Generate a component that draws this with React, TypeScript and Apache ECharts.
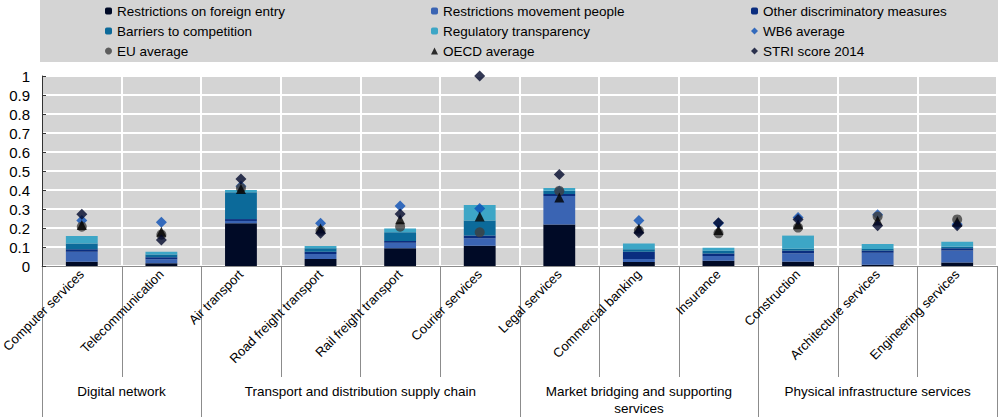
import React, { useEffect, useRef } from "react";
import * as echarts from "echarts";

const categories = [
  "Computer services",
  "Telecommunication",
  "Air transport",
  "Road freight transport",
  "Rail freight transport",
  "Courier services",
  "Legal services",
  "Commercial banking",
  "Insurance",
  "Construction",
  "Architecture services",
  "Engineering services",
];

const groupNames = [
  "Digital network",
  "Transport and distribution supply chain",
  "Market bridging and supporting\nservices",
  "Physical infrastructure services",
];
const groupSizes = [2, 4, 3, 3];

const foreignEntry = [0.023, 0.014, 0.225, 0.037, 0.093, 0.107, 0.219, 0.021, 0.028, 0.023, 0.007, 0.018];
const movementPeople = [0.052, 0.021, 0.012, 0.026, 0.03, 0.039, 0.149, 0.016, 0.024, 0.044, 0.063, 0.063];
const otherDiscriminatory = [0.013, 0.011, 0.01, 0.012, 0.009, 0.015, 0.011, 0.038, 0.014, 0.014, 0.011, 0.012];
const barriersCompetition = [0.031, 0.014, 0.141, 0.018, 0.045, 0.078, 0.017, 0.013, 0.014, 0.01, 0.009, 0.009];
const regulatoryTransparency = [0.039, 0.015, 0.012, 0.012, 0.021, 0.082, 0.014, 0.031, 0.016, 0.069, 0.026, 0.025];
const wb6Average = [0.24, 0.23, 0.42, 0.225, 0.316, 0.302, 0.395, 0.24, 0.225, 0.255, 0.27, 0.22];
const euAverage = [0.207, 0.165, 0.41, 0.185, 0.207, 0.177, 0.395, 0.185, 0.172, 0.202, 0.26, 0.245];
const oecdAverage = [0.216, 0.18, 0.405, 0.198, 0.246, 0.26, 0.36, 0.198, 0.19, 0.22, 0.24, 0.233];
const striScore2014 = [0.272, 0.137, 0.458, 0.172, 0.274, 1.0, 0.481, 0.175, 0.228, 0.245, 0.212, 0.212];

const FONT = "'Liberation Sans', Arial, sans-serif";

export default function App() {
  const ref = useRef<HTMLDivElement>(null);

  useEffect(() => {
    if (!ref.current) return;
    const chart = echarts.init(ref.current, undefined, { renderer: "svg" });

    const barSeries = (name: string, data: number[], color: string) => ({
      name,
      type: "bar",
      stack: "stri",
      data,
      barWidth: "40%",
      itemStyle: { color },
      z: 2,
    });
    const scatterSeries = (name: string, data: number[], symbol: string, size: number, color: string, z: number) => ({
      name,
      type: "scatter",
      data,
      symbol,
      symbolSize: size,
      itemStyle: { color },
      z,
    });

    const legendBase = {
      orient: "vertical",
      top: 3,
      padding: 0,
      itemWidth: 7,
      itemHeight: 7,
      itemGap: 4,
      textStyle: { fontSize: 13.5, fontFamily: FONT, color: "#000", lineHeight: 16 },
      selectedMode: false,
    };

    const bgRect = {
      type: "rect",
      z: -10,
      silent: true,
      shape: { x: 40, y: 0, width: 958, height: 62 },
      style: { fill: "#d4d4d4" },
    };

    chart.setOption({
      animation: false,
      textStyle: { fontFamily: FONT },
      grid: {
        left: 42,
        right: 3,
        top: 76,
        bottom: 151,
        show: true,
        backgroundColor: "#d4d4d4",
        borderWidth: 0,
        containLabel: false,
        outerBoundsMode: "none",
      },
      legend: [
        { ...legendBase, left: 105, data: ["Restrictions on foreign entry", "Barriers to competition", "EU average"] },
        { ...legendBase, left: 431, data: ["Restrictions movement people", "Regulatory transparency", "OECD average"] },
        { ...legendBase, left: 751, data: ["Other discriminatory measures", "WB6 average", "STRI score 2014"] },
      ],
      xAxis: {
        type: "category",
        data: categories,
        boundaryGap: true,
        axisLine: { show: true, lineStyle: { color: "#8c8c8c", width: 1 } },
        axisTick: { show: false },
        splitLine: { show: true, interval: 0, lineStyle: { color: "#ffffff", width: 2 } },
        axisLabel: {
          interval: 0,
          rotate: 45,
          fontSize: 13,
          fontFamily: FONT,
          color: "#000",
          margin: 6,
        },
      },
      yAxis: {
        type: "value",
        min: 0,
        max: 1,
        interval: 0.1,
        axisLine: { show: true, lineStyle: { color: "#333333", width: 1 } },
        axisTick: { show: true, inside: true, length: 4, lineStyle: { color: "#333333" } },
        splitLine: { show: true, lineStyle: { color: "#ffffff", width: 2 } },
        axisLabel: { fontSize: 15, fontFamily: FONT, color: "#000", margin: 12 },
      },
      series: [
        barSeries("Restrictions on foreign entry", foreignEntry, "#000a26"),
        barSeries("Restrictions movement people", movementPeople, "#3a64b3"),
        barSeries("Other discriminatory measures", otherDiscriminatory, "#0a2d7f"),
        barSeries("Barriers to competition", barriersCompetition, "#0c6a9a"),
        barSeries("Regulatory transparency", regulatoryTransparency, "#3da6c6"),
        scatterSeries("WB6 average", wb6Average, "diamond", 11, "#0a4fb5", 5),
        scatterSeries("EU average", euAverage, "circle", 10, "#3f3f3f", 6),
        scatterSeries("OECD average", oecdAverage, "triangle", 10, "#000000", 7),
        scatterSeries("STRI score 2014", striScore2014, "diamond", 11, "#00082a", 8),
      ],
      graphic: [bgRect],
    });

    // Separator lines and group labels derived from the category scale.
    const c0 = chart.convertToPixel({ xAxisIndex: 0 }, 0) as number;
    const c1 = chart.convertToPixel({ xAxisIndex: 0 }, 1) as number;
    const band = c1 - c0;
    const y0 = chart.convertToPixel({ yAxisIndex: 0 }, 0) as number;
    const boundary = (k: number) => c0 - band / 2 + k * band;

    const groupEdges: number[] = [0];
    groupSizes.forEach((s) => groupEdges.push(groupEdges[groupEdges.length - 1] + s));

    const extra: any[] = [bgRect];
    for (let k = 0; k <= categories.length; k++) {
      const isGroup = groupEdges.indexOf(k) >= 0;
      const x = Math.round(boundary(k)) + 0.5;
      extra.push({
        type: "line",
        silent: true,
        shape: { x1: x, y1: y0, x2: x, y2: isGroup ? 417 : y0 + 111 },
        style: { stroke: "#8c8c8c", lineWidth: 1 },
      });
    }
    groupNames.forEach((name, g) => {
      const cx = (boundary(groupEdges[g]) + boundary(groupEdges[g + 1])) / 2;
      extra.push({
        type: "text",
        silent: true,
        x: cx,
        y: y0 + 117,
        style: {
          text: name,
          fill: "#000",
          font: `13.5px ${FONT}`,
          align: "center",
          verticalAlign: "top",
          lineHeight: 17,
        },
      });
    });
    chart.setOption({ graphic: extra }, { replaceMerge: ["graphic"] });

    return () => chart.dispose();
  }, []);

  return (
    <div
      ref={ref}
      style={{ position: "absolute", left: 0, top: 0, width: 1000, height: 417, background: "#ffffff" }}
    />
  );
}
